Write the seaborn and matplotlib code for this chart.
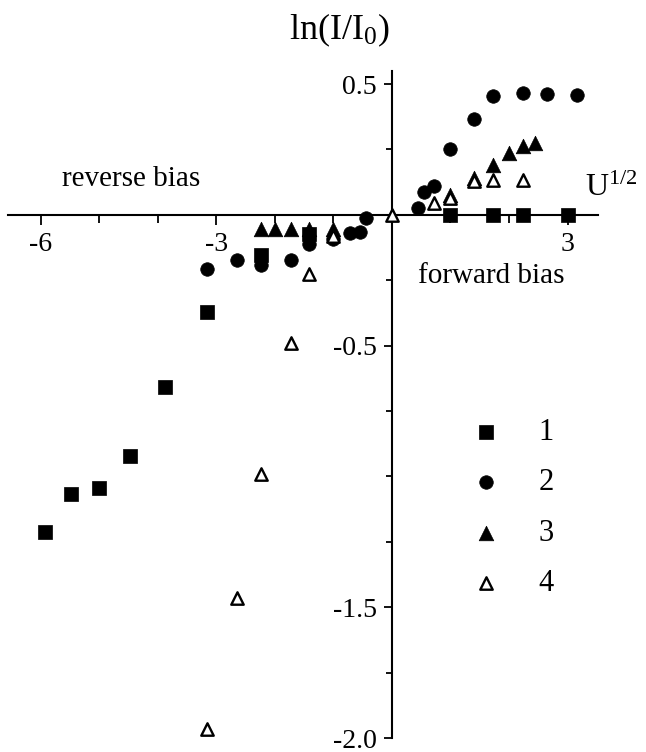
import numpy as np
import pandas as pd
import seaborn as sns
import matplotlib.pyplot as plt
from matplotlib.ticker import FixedLocator

# series 1 (filled squares)
x1 = [-5.92, -5.48, -5.00, -4.47, -3.87, -3.16, -2.24, -1.41, 1.00, 1.73, 2.24, 3.00]
y1 = [-1.213, -1.067, -1.045, -0.920, -0.660, -0.373, -0.155, -0.075, 0.0, 0.0, 0.0, 0.0]

# series 2 (filled circles)
x2 = [-3.16, -2.65, -2.24, -1.73, -1.41, -1.00, -0.71, -0.55, -0.45,
      0.45, 0.55, 0.71, 1.00, 1.41, 1.73, 2.24, 2.65, 3.16]
y2 = [-0.208, -0.172, -0.193, -0.172, -0.113, -0.094, -0.071, -0.064, -0.011,
      0.025, 0.089, 0.110, 0.252, 0.365, 0.453, 0.466, 0.463, 0.460]

# series 3 (filled triangles)
x3 = [-2.24, -2.00, -1.73, -1.41, -1.00, 1.00, 1.41, 1.73, 2.00, 2.24, 2.45]
y3 = [-0.053, -0.053, -0.053, -0.053, -0.053, 0.075, 0.142, 0.190, 0.235, 0.265, 0.275]

# series 4 (open triangles)
x4 = [-3.16, -2.65, -2.24, -1.73, -1.41, -1.00, 0.00, 0.71, 1.00, 1.41, 1.73, 2.24]
y4 = [-1.965, -1.465, -0.990, -0.490, -0.227, -0.081, 0.0, 0.047, 0.066, 0.129, 0.133, 0.133]

labels = ["1", "2", "3", "4"]
x_major = [-6, -3, 3]
x_minor = [-5, -4, -2, -1, 1, 2]
y_major = [0.5, -0.5, -1.5, -2.0]
y_minor = [0.25, -0.25, -0.75, -1.0, -1.25, -1.75]

sns.set_style("white")
plt.rcParams['font.family'] = ['Liberation Serif', 'DejaVu Serif']
plt.rcParams['mathtext.fontset'] = 'custom'
plt.rcParams['mathtext.rm'] = 'Liberation Serif'
plt.rcParams['mathtext.it'] = 'Liberation Serif:italic'
plt.rcParams['text.color'] = 'black'
plt.rcParams['xtick.color'] = 'black'
plt.rcParams['ytick.color'] = 'black'
plt.rcParams['axes.labelcolor'] = 'black'

fig = plt.figure(figsize=(6.46, 7.52), dpi=100)
ax = fig.add_axes([8 / 646, 14 / 752, 590 / 646, 667 / 752])

common = dict(ax=ax, color="black", clip_on=False, zorder=5)
sns.scatterplot(x=x1, y=y1, marker="s", s=95, edgecolor="black", linewidth=0.5, label=labels[0], **common)
sns.scatterplot(x=x2, y=y2, marker="o", s=95, edgecolor="black", linewidth=0.5, label=labels[1], **common)
sns.scatterplot(x=x3, y=y3, marker="^", s=110, edgecolor="black", linewidth=0.5, label=labels[2], **common)
sns.scatterplot(x=x4, y=y4, marker="^", s=80, facecolor="white", edgecolor="black", linewidth=1.7,
                label=labels[3], ax=ax, clip_on=False, zorder=6)

ax.set_xlim(-6.56, 3.52)
ax.set_ylim(-2.0, 0.55)

for side in ["top", "right"]:
    ax.spines[side].set_visible(False)
ax.spines["left"].set_position(("data", 0))
ax.spines["bottom"].set_position(("data", 0))
for side in ["left", "bottom"]:
    ax.spines[side].set_linewidth(1.5)
    ax.spines[side].set_color("black")

ax.xaxis.set_major_locator(FixedLocator(x_major))
ax.xaxis.set_minor_locator(FixedLocator(x_minor))
ax.yaxis.set_major_locator(FixedLocator(y_major))
ax.yaxis.set_minor_locator(FixedLocator(y_minor))
ax.set_xticklabels([f"{v:g}" for v in x_major])
ax.set_yticklabels([f"{v:.1f}" for v in y_major])
ax.tick_params(axis="both", which="both", direction="out", color="black", labelcolor="black",
               width=1.3, bottom=True, left=True)
ax.tick_params(axis="x", which="major", length=7, pad=5, labelsize=20)
ax.tick_params(axis="x", which="minor", length=6)
ax.tick_params(axis="y", which="major", length=6, pad=5, labelsize=20)
ax.tick_params(axis="y", which="minor", length=4)

ax.text(-0.04, 0.67, r"ln(I/I$_0$)", ha="right", va="baseline", fontsize=26)
ax.text(3.30, 0.072, r"U$^{1/2}$", ha="left", va="baseline", fontsize=23)
ax.text(-4.46, 0.109, "reverse bias", ha="center", va="baseline", fontsize=21)
ax.text(1.70, -0.262, "forward bias", ha="center", va="baseline", fontsize=21)

ax.legend(loc="upper left", bbox_to_anchor=(471 / 646, 1 - 418 / 752), bbox_transform=fig.transFigure,
          frameon=False, fontsize=22, handlelength=1.0, handletextpad=1.2, labelspacing=0.7,
          borderpad=0, borderaxespad=0, markerscale=1.0)

ax.set_xlabel("")
ax.set_ylabel("")
fig.savefig("out.png", dpi=100, facecolor="white")
